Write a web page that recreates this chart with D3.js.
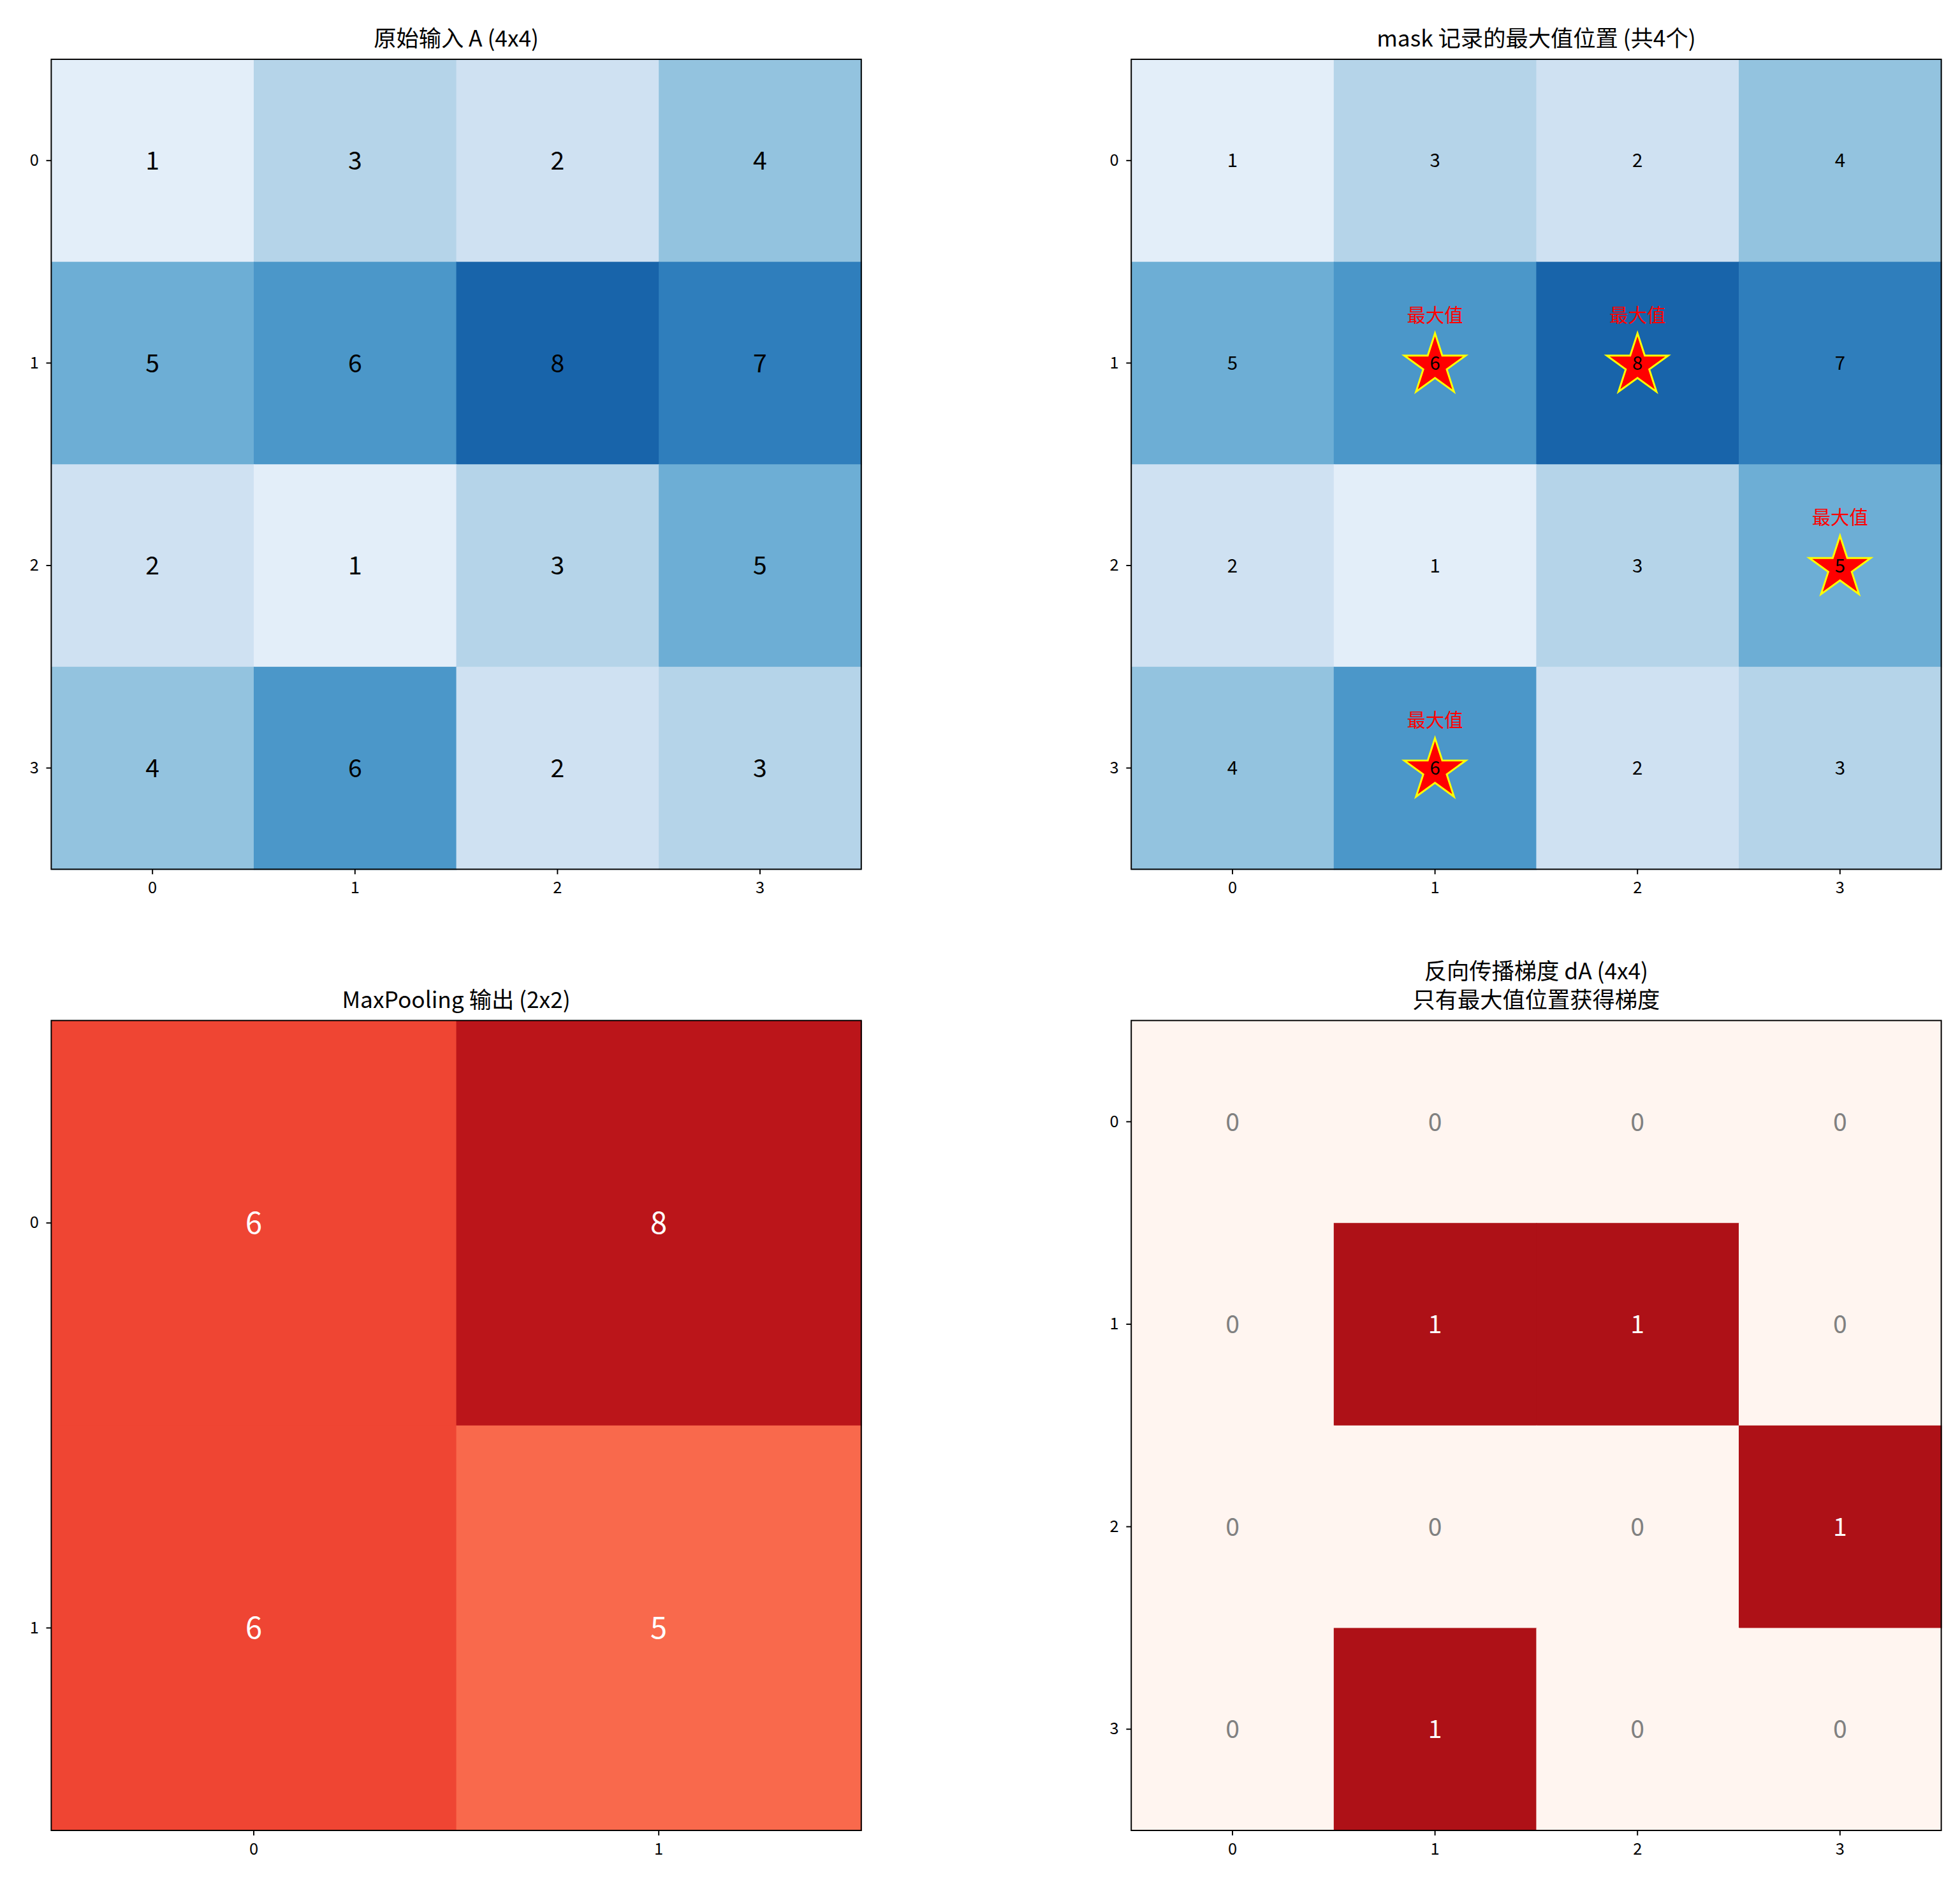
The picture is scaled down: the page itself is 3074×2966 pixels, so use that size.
<!DOCTYPE html>
<html><head><meta charset="utf-8">
<script src="https://cdn.jsdelivr.net/npm/d3@7"></script>
<style>body{margin:0;background:#fff}text{font-family:"Noto Sans CJK SC","DejaVu Sans",sans-serif}</style>
</head><body><div id="chart"></div>
<script>
const A = [[1,3,2,4],[5,6,8,7],[2,1,3,5],[4,6,2,3]];
const pooled = [[6,8],[6,5]];
const maxPos = [[1,1],[1,2],[2,3],[3,1]];
const dA = [[0,0,0,0],[0,1,1,0],[0,0,0,1],[0,1,0,0]];

const svg = d3.select("#chart").append("svg")
    .attr("width", 3074).attr("height", 2966)
    .attr("viewBox", "0 0 1568 1512");

const panels = [
    {x: 41, y: 47, data: A, title: ["原始输入 A (4x4)"], color: v => d3.interpolateBlues(v / 10), fs: 20, txt: () => "#000"},
    {x: 905, y: 47, data: A, title: ["mask 记录的最大值位置 (共4个)"], color: v => d3.interpolateBlues(v / 10), fs: 15, txt: () => "#000", stars: maxPos},
    {x: 41, y: 816, data: pooled, title: ["MaxPooling 输出 (2x2)"], color: v => d3.interpolateReds(v / 10), fs: 24, txt: () => "#fff"},
    {x: 905, y: 816, data: dA, title: ["反向传播梯度 dA (4x4)", "只有最大值位置获得梯度"], color: v => d3.interpolateReds(v * 0.84), fs: 20, txt: v => v ? "#fff" : "#808080"}
];
const size = 648;

panels.forEach(p => {
    const n = p.data.length;
    const xs = d3.scaleBand().domain(d3.range(n)).range([0, size]);
    const ys = d3.scaleBand().domain(d3.range(n)).range([0, size]);
    const g = svg.append("g").attr("transform", `translate(${p.x},${p.y})`);

    const cells = p.data.flatMap((row, r) => row.map((v, c) => ({r, c, v})));
    g.selectAll("rect.cell").data(cells).enter().append("rect")
        .attr("x", d => xs(d.c)).attr("y", d => ys(d.r))
        .attr("width", xs.bandwidth() + 0.5).attr("height", ys.bandwidth() + 0.5)
        .attr("fill", d => p.color(d.v));

    if (p.stars) {
        const star = d3.symbol().type(d3.symbolStar).size(750);
        p.stars.forEach(([r, c]) => {
            const cx = xs(c) + xs.bandwidth() / 2, cy = ys(r) + ys.bandwidth() / 2;
            g.append("path").attr("d", star()).attr("transform", `translate(${cx},${cy + 2})`)
                .attr("fill", "red").attr("stroke", "yellow").attr("stroke-width", 1.5);
            g.append("text").attr("x", cx).attr("y", cy - 33).attr("text-anchor", "middle")
                .attr("font-size", 15).attr("fill", "red").text("最大值");
        });
    }

    g.selectAll("text.val").data(cells).enter().append("text")
        .attr("x", d => xs(d.c) + xs.bandwidth() / 2).attr("y", d => ys(d.r) + ys.bandwidth() / 2)
        .attr("dy", "0.36em").attr("text-anchor", "middle")
        .attr("font-size", p.fs).attr("fill", d => p.txt(d.v)).text(d => d.v);

    g.append("rect").attr("width", size).attr("height", size)
        .attr("fill", "none").attr("stroke", "#000").attr("stroke-width", 1);

    const tick = s => s.tickSize(4).tickPadding(6);
    const ax = g.append("g").attr("transform", `translate(0,${size})`).call(tick(d3.axisBottom(xs)));
    const ay = g.append("g").call(tick(d3.axisLeft(ys)));
    [ax, ay].forEach(a => {
        a.select(".domain").remove();
        a.selectAll("text").attr("font-size", 13).attr("fill", "#000");
        a.selectAll("line").attr("stroke", "#000");
    });

    p.title.forEach((t, i) => {
        g.append("text").attr("x", size / 2).attr("y", -10 - (p.title.length - 1 - i) * 23)
            .attr("text-anchor", "middle").attr("font-size", 18).text(t);
    });
});
</script></body></html>
